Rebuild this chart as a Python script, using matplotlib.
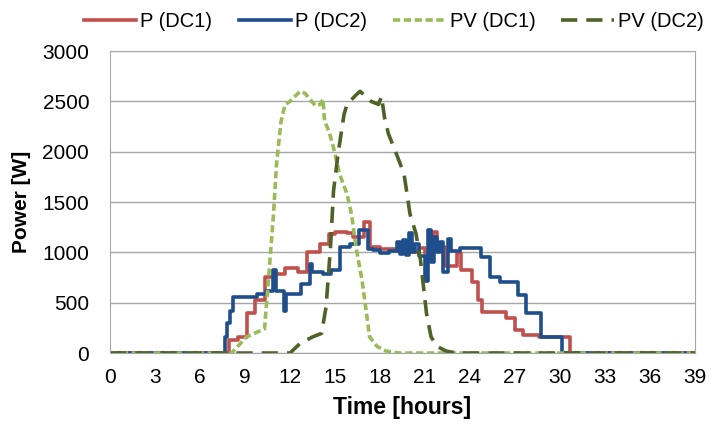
import matplotlib.pyplot as plt

plt.rcParams['font.family'] = ['Liberation Sans', 'DejaVu Sans']

# measured output power, step changes (hour, W)
p1_t = [0, 7.9, 8.55, 9.1, 9.65, 10.3, 10.9, 11.65, 12.5, 13.1, 14.0, 14.6, 15.0,
        15.8, 16.2, 16.9, 17.3, 18.0, 19.1, 19.6, 20.0, 20.6, 21.0, 21.5, 21.8,
        22.3, 23.1, 23.4, 24.1, 24.55, 24.8, 26.4, 27.0, 27.55, 28.6, 30.65, 39]
p1_w = [0, 130, 160, 395, 525, 755, 790, 840, 805, 1000, 1085, 1185, 1200,
        1190, 1150, 1300, 1050, 1030, 1010, 1050, 1000, 1040, 990, 1200, 1050,
        860, 990, 820, 705, 525, 410, 345, 230, 180, 160, 0, 0]

p2_t = [0, 7.65, 7.8, 8.0, 8.2, 9.8, 10.4, 10.85, 11.05, 11.6, 11.75, 12.7, 13.3,
        13.45, 14.2, 14.7, 15.3, 16.0, 16.6, 17.2, 17.5, 18.0, 18.6, 19.1, 19.3,
        19.5, 19.7, 19.9, 20.1, 20.3, 20.6, 21.0, 21.2, 21.4, 21.6, 21.8, 22.0,
        22.2, 22.5, 22.7, 23.3, 24.7, 25.3, 26.0, 27.2, 27.7, 28.7, 30.1, 39]
p2_w = [0, 160, 300, 420, 560, 590, 620, 820, 620, 420, 590, 690, 880,
        800, 790, 820, 1050, 1085, 1220, 1030, 1020, 990, 1010, 1100, 980,
        1120, 970, 1190, 1000, 1080, 960, 720, 1220, 900, 1150, 1000, 1100,
        800, 1130, 1010, 1040, 950, 755, 705, 575, 395, 160, 0, 0]

# PV available power
pv1_t = [0, 8.1, 9.1, 10.3, 10.56, 10.9, 11.1, 11.4, 11.67, 12.0, 12.67, 13.0,
         13.7, 14.0, 14.2, 14.3, 14.6, 14.9, 15.3, 15.8, 16.1, 16.4, 16.8, 17.1,
         17.3, 17.8, 18.4, 19.3, 39]
pv1_w = [0, 0, 160, 240, 723, 1380, 1880, 2300, 2470, 2500, 2600, 2580,
         2455, 2470, 2520, 2307, 2200, 2040, 1780, 1580, 1380, 1050, 723, 393,
         162, 66, 20, 0, 0]

pv2_t = [0, 12.0, 12.67, 13.5, 14.1, 14.4, 14.7, 14.9, 15.2, 15.6, 15.8, 16.44,
         16.67, 17.4, 17.9, 18.1, 18.3, 18.56, 19.1, 19.6, 19.8, 20.0, 20.4, 20.7,
         20.9, 21.1, 21.4, 21.8, 22.4, 23.1, 39]
pv2_w = [0, 0, 95, 160, 195, 455, 1053, 1610, 1975, 2370, 2470, 2570,
         2600, 2500, 2470, 2550, 2340, 2178, 1975, 1780, 1580, 1380, 1185, 920,
         657, 393, 162, 66, 20, 0, 0]

x_ticks = list(range(0, 40, 3))
y_ticks = list(range(0, 3001, 500))

fig = plt.figure(figsize=(7.2, 4.3), dpi=100)
ax = fig.add_axes([0.1528, 0.179, 0.8125, 0.7023])

ax.plot(p1_t, p1_w, drawstyle='steps-post', color='#C0504D', lw=2.6, label='P (DC1)')
ax.plot(p2_t, p2_w, drawstyle='steps-post', color='#1F4E8C', lw=2.6, label='P (DC2)')
ax.plot(pv1_t, pv1_w, color='#9BBB59', lw=2.6, linestyle=(0, (2, 1)), label='PV (DC1)')
ax.plot(pv2_t, pv2_w, color='#4F6228', lw=2.6, linestyle=(0, (4.5, 2.5)), label='PV (DC2)')

ax.set_xlim(0, 39)
ax.set_ylim(0, 3000)
ax.set_xticks(x_ticks)
ax.set_yticks(y_ticks)
ax.tick_params(length=0, labelsize=15)
ax.tick_params(axis='y', pad=15)
ax.tick_params(axis='x', pad=11)
ax.grid(axis='y', color='#A6A6A6', lw=1)
ax.set_axisbelow(True)
for s in ax.spines.values():
    s.set_color('#A6A6A6')

ax.set_xlabel('Time [hours]', fontsize=16.5, fontweight='bold', labelpad=6)
ax.set_ylabel('Power [W]', fontsize=15, fontweight='bold', labelpad=8)

fig.legend(loc='upper center', bbox_to_anchor=(0.547, 1.015), ncol=4, frameon=False,
           fontsize=14.5, handlelength=2.6, columnspacing=1.3, handletextpad=0.2)

fig.savefig('out.png', dpi=100)
